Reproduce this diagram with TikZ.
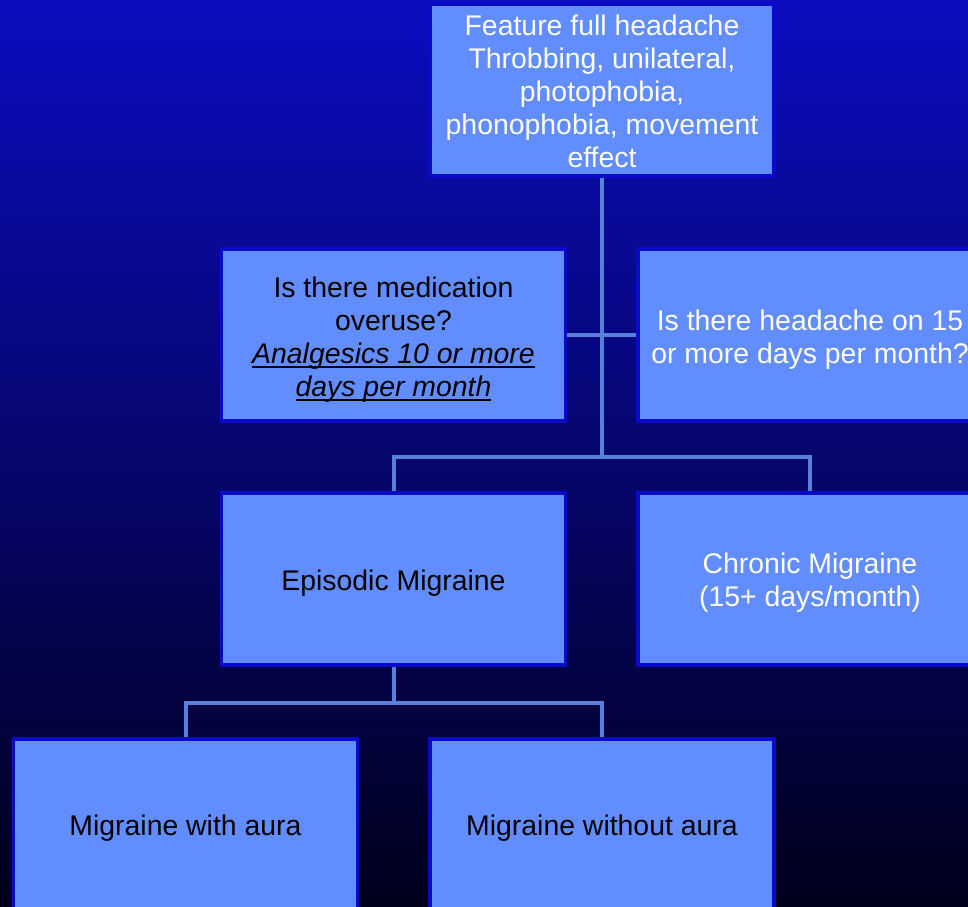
\documentclass[tikz,border=0pt]{standalone}
\usepackage{fontspec}
\setmainfont{Liberation Sans}
\definecolor{bgtop}{RGB}{12,12,192}
\definecolor{bgmid}{RGB}{0,0,120}
\definecolor{bgbot}{RGB}{0,0,28}
\definecolor{boxfill}{RGB}{97,141,255}
\definecolor{boxline}{RGB}{10,10,200}
\definecolor{conn}{RGB}{88,128,218}
\newcommand\myul[1]{\setbox0\hbox{#1}\rlap{\rule[-3.3pt]{\wd0}{1.4pt}}\box0}
\begin{document}
\begin{tikzpicture}[x=0.75pt,y=-0.75pt,
  box/.style={rectangle,fill=boxfill,draw=boxline,line width=2.4pt,
    minimum width=258pt,minimum height=129pt,inner sep=0pt},
  lbl/.style={inner sep=0pt,align=center,font=\fontsize{21.3}{24.75}\selectfont},
  wtext/.style={lbl,text=white},
  btext/.style={lbl,text=black},
  link/.style={draw=conn,line width=3pt}]
\useasboundingbox (0,0) rectangle (968,907);
\shade[top color=bgtop,middle color=bgmid,bottom color=bgbot] (0,0) rectangle (968,907);
\node[box] (t) at (602,90) {};
\node[box] (m) at (393.5,335) {};
\node[box] (h) at (810,335) {};
\node[box] (e) at (393.5,579) {};
\node[box] (c) at (810,579) {};
\node[box] (a) at (185.5,825) {};
\node[box] (w) at (602,825) {};
\node[wtext] (tl) at ([yshift=-0.75pt]t.center) {Feature full headache\\Throbbing, unilateral,\\photophobia,\\phonophobia, movement\\effect};
\node[btext] (ml) at ([yshift=-3.6pt]m.center) {Is there medication\\overuse?\\\myul{\textit{Analgesics 10 or more}}\\\myul{\textit{days per month}}};
\node[wtext] (hl) at ([yshift=-3.6pt]h.center) {Is there headache on 15\\or more days per month?};
\node[btext] (el) at ([yshift=-3pt]e.center) {Episodic Migraine};
\node[wtext] (cl) at ([yshift=-3pt]c.center) {Chronic Migraine\\(15+ days/month)};
\node[btext] (al) at ([yshift=-2.3pt]a.center) {Migraine with aura};
\node[btext] (wl) at ([yshift=-2.3pt]w.center) {Migraine without aura};
\coordinate (j1) at (602,457);
\coordinate (j2) at (393.5,703);
\draw[link] (t.south) -- (j1);
\draw[link] (m.east) -- (h.west);
\draw[link] (e.north) |- (j1) -| (c.north);
\draw[link] (e.south) -- (j2);
\draw[link] (a.north) |- (j2) -| (w.north);
\end{tikzpicture}
\end{document}
